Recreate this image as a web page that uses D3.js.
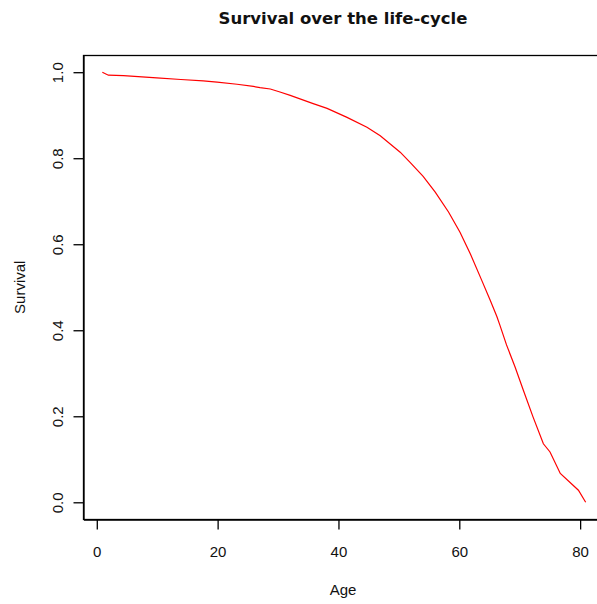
<!DOCTYPE html>
<html>
<head>
<meta charset="utf-8">
<script src="https://cdn.jsdelivr.net/npm/d3@7"></script>
<style>
  html, body { margin: 0; padding: 0; background: #fff; }
  svg { display: block; }
  text { font-family: "Liberation Sans", Arial, sans-serif; fill: #111; }
</style>
</head>
<body>
<script>
// Data
const ages = [1, 2, 4.5, 10, 14, 17.7, 20, 23.3, 26, 27.1, 28.8, 30.4, 32.1, 35.9, 38.2, 41.5, 44.8, 47, 50.3, 51.9, 54.1, 56.1, 58.3, 60.2, 61.9, 63.8, 65.2, 66.3, 66.8, 67.9, 69.3, 70.7, 72.3, 74, 75.1, 76.8, 79.8, 81];
const survival = [1.0, 0.993, 0.992, 0.987, 0.983, 0.980, 0.977, 0.972, 0.967, 0.964, 0.961, 0.954, 0.946, 0.927, 0.916, 0.895, 0.872, 0.852, 0.814, 0.791, 0.758, 0.721, 0.675, 0.628, 0.578, 0.516, 0.470, 0.432, 0.412, 0.366, 0.315, 0.260, 0.198, 0.136, 0.117, 0.067, 0.028, 0.0];
const xTicks = [0, 20, 40, 60, 80];
const yTicks = [0.0, 0.2, 0.4, 0.6, 0.8, 1.0];
const yTickLabels = ["0.0", "0.2", "0.4", "0.6", "0.8", "1.0"];
const titleText = "Survival over the life-cycle";
const xLabel = "Age";
const yLabel = "Survival";

(function () {
const W = 597, H = 604;
const svg = d3.select("body").append("svg").attr("width", W).attr("height", H);
svg.append("rect").attr("width", W).attr("height", H).attr("fill", "#fff");

const pLeft = 83, pRight = 605, pTop = 55, pBottom = 519.5;
const x = d3.scaleLinear().domain([-2.2, 84.2]).range([pLeft, pRight]);
const y = d3.scaleLinear().domain([-0.04, 1.04]).range([pBottom, pTop]);

// plot box
svg.append("rect")
  .attr("x", pLeft + 0.5).attr("y", pTop + 0.5)
  .attr("width", pRight - pLeft).attr("height", pBottom - pTop - 0.5)
  .attr("fill", "none").attr("stroke", "#000").attr("stroke-width", 1.3);

// x axis
const gx = svg.append("g").attr("transform", `translate(0.5,${pBottom})`)
  .call(d3.axisBottom(x).tickValues(xTicks).tickSize(10).tickSizeOuter(0).tickFormat(d3.format("d")));
gx.select(".domain").attr("stroke", "#000").attr("stroke-width", 1.3);
gx.selectAll(".tick line").attr("stroke", "#000").attr("stroke-width", 1.3);
gx.selectAll(".tick text")
  .attr("y", 32).attr("dy", "0.35em")
  .style("font-size", "15px").style("font-family", "'Liberation Sans', Arial, sans-serif").attr("fill", "#111");

// y axis
const gy = svg.append("g").attr("transform", `translate(${pLeft + 0.5},0)`)
  .call(d3.axisLeft(y).tickValues(yTicks).tickSize(10).tickSizeOuter(0).tickFormat((d, i) => yTickLabels[i]));
gy.select(".domain").attr("stroke", "#000").attr("stroke-width", 1.3);
gy.selectAll(".tick line").attr("stroke", "#000").attr("stroke-width", 1.3);
gy.selectAll(".tick text")
  .attr("transform", "rotate(-90)")
  .attr("x", 0).attr("y", -26).attr("dy", "0.35em")
  .attr("text-anchor", "middle")
  .style("font-size", "15px").style("font-family", "'Liberation Sans', Arial, sans-serif").attr("fill", "#111");

// survival curve
const line = d3.line().x((d, i) => x(ages[i])).y(d => y(d));
svg.append("path")
  .datum(survival)
  .attr("d", line)
  .attr("fill", "none")
  .attr("stroke", "#ff0000")
  .attr("stroke-width", 1.2);

// title and axis labels
const cx = 343;
svg.append("text").attr("x", cx).attr("y", 18).attr("dy", "0.35em")
  .attr("text-anchor", "middle")
  .style("font-size", "16.5px").style("font-weight", "bold")
  .style("font-family", "'DejaVu Sans', Verdana, sans-serif")
  .text(titleText);
svg.append("text").attr("x", cx).attr("y", 590).attr("dy", "0.35em")
  .attr("text-anchor", "middle").style("font-size", "15px")
  .text(xLabel);
svg.append("text")
  .attr("transform", `translate(20,${(pTop + pBottom) / 2}) rotate(-90)`)
  .attr("dy", "0.35em")
  .attr("text-anchor", "middle").style("font-size", "15px")
  .text(yLabel);
})();
</script>
</body>
</html>
